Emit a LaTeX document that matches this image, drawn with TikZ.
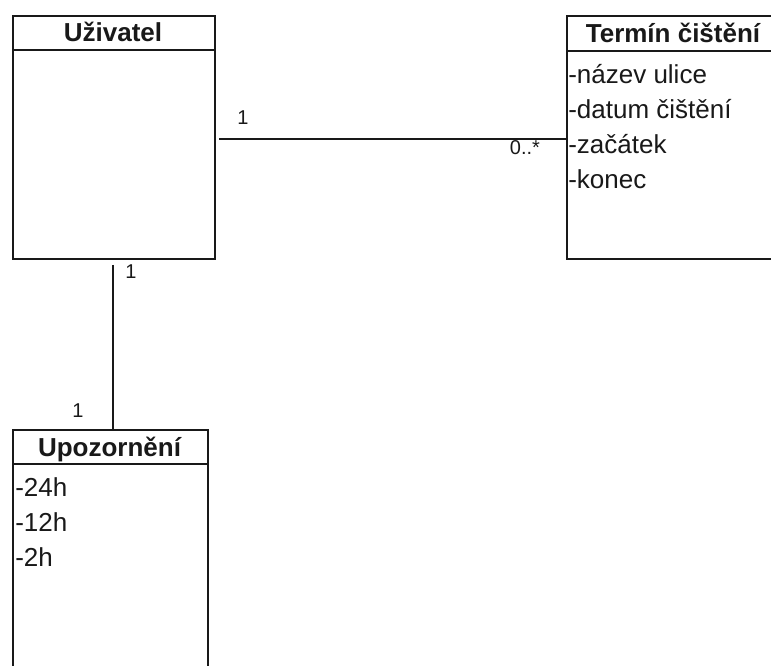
\documentclass[tikz,border=0pt]{standalone}
\usepackage{fontspec}
\setmainfont{Liberation Sans}
\usetikzlibrary{calc}
\definecolor{linec}{RGB}{25,25,25}
\begin{document}
\begin{tikzpicture}[x=0.75pt,y=-0.75pt,
  classbox/.style={draw=linec, line width=1.5pt, fill=white, inner sep=0pt, anchor=north west},
  header/.style={font=\fontsize{19.5}{22}\selectfont\bfseries, anchor=base, inner sep=0pt, text=linec},
  attr/.style={font=\fontsize{19.5}{22}\selectfont, anchor=base west, inner sep=0pt, text=linec},
  mult/.style={font=\fontsize{15}{17}\selectfont, anchor=base, inner sep=0pt, text=linec},
  assoc/.style={draw=linec, line width=1.5pt},
  sep/.style={draw=linec, line width=1.5pt}]
\useasboundingbox (0,0) rectangle (771,666);
\clip (0,0) rectangle (771,666);

% class boxes
\node[classbox, minimum width=151.5pt, minimum height=182.25pt] (uziv) at (12,15) {};
\node[classbox, minimum width=172.5pt, minimum height=182.25pt] (term) at (566,15) {};
\node[classbox, minimum width=146.25pt, minimum height=225pt] (upoz) at (12,429) {};

% header separators
\draw[sep] ($(uziv.north west)+(0,35)$) -- ($(uziv.north east)+(0,35)$);
\draw[sep] ($(term.north west)+(0,36)$) -- ($(term.north east)+(0,36)$);
\draw[sep] ($(upoz.north west)+(0,35)$) -- ($(upoz.north east)+(0,35)$);

% class names
\node[header] (uzivname) at (113,42) {Uživatel};
\node[header] (termname) at (673,43) {Termín čištění};
\node[header] (upozname) at (109.5,456) {Upozornění};

% attributes
\node[attr] (t1) at (568,84) {-název ulice};
\node[attr] (t2) at (568,119) {-datum čištění};
\node[attr] (t3) at (568,154) {-začátek};
\node[attr] (t4) at (568,189) {-konec};

\node[attr] (u1) at (15,496) {-24h};
\node[attr] (u2) at (15,531) {-12h};
\node[attr] (u3) at (15,566) {-2h};

% associations
\coordinate (a1) at ($(uziv.east)+(3,1.5)$);
\coordinate (b1) at ($(uziv.south)+(-1,5)$);
\draw[assoc] (a1) -- (a1 -| term.west);
\draw[assoc] (b1) -- (b1 |- upoz.north);

% multiplicities
\node[mult] (m1) at (243,125) {1};
\node[mult] (m2) at (525,155) {0..*};
\node[mult] (m3) at (131,279) {1};
\node[mult] (m4) at (78,417) {1};
\end{tikzpicture}
\end{document}
